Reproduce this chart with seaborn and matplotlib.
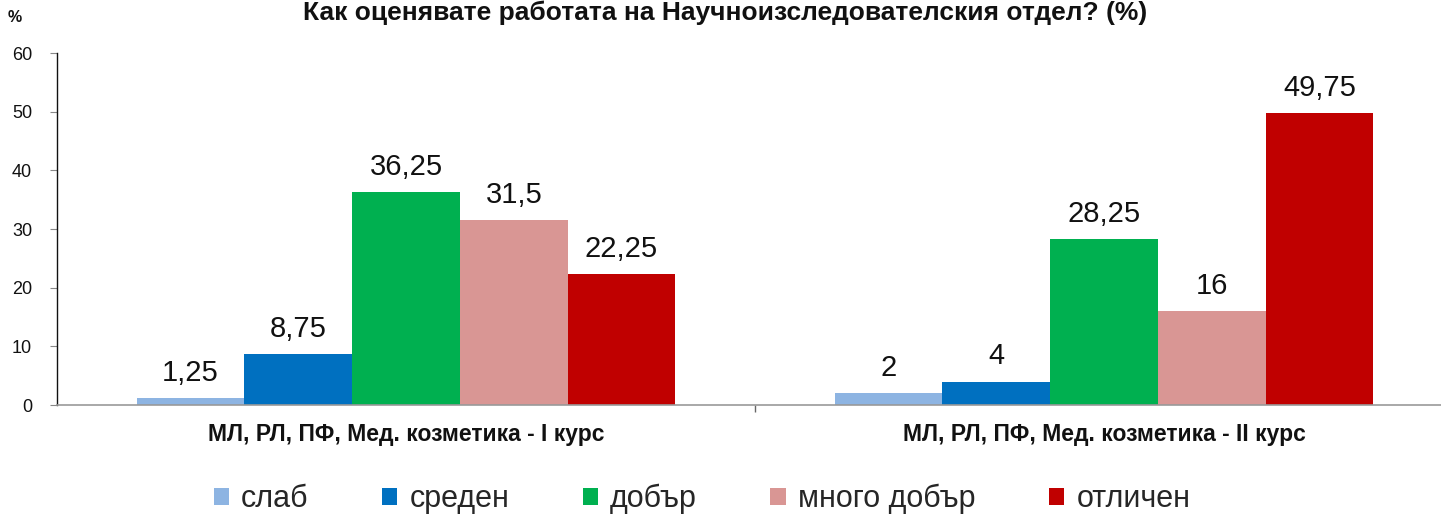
import matplotlib
matplotlib.use("Agg")
import matplotlib.pyplot as plt
import seaborn as sns
import pandas as pd
from matplotlib.patches import Patch

categories = ["МЛ, РЛ, ПФ, Мед. козметика - I курс", "МЛ, РЛ, ПФ, Мед. козметика - II курс"]
series = ["слаб", "среден", "добър", "много добър", "отличен"]
values = {
    "слаб": [1.25, 2],
    "среден": [8.75, 4],
    "добър": [36.25, 28.25],
    "много добър": [31.5, 16],
    "отличен": [22.25, 49.75],
}
colors = ["#8DB4E2", "#0070C0", "#00B050", "#D99694", "#C00000"]
yticks = [0, 10, 20, 30, 40, 50, 60]
title = "Как оценявате работата на Научноизследователския отдел? (%)"

rows = []
for s in series:
    for c, v in zip(categories, values[s]):
        rows.append({"cat": c, "series": s, "val": v})
df = pd.DataFrame(rows)

sns.set_theme(style="white")
plt.rcParams["font.family"] = ["Liberation Sans", "DejaVu Sans"]

W, H = 1441, 514
fig = plt.figure(figsize=(W / 100, H / 100), dpi=100)
ax = fig.add_axes([57 / W, 1 - 405 / H, 1396 / W, 352 / H])

sns.barplot(data=df, x="cat", y="val", hue="series", hue_order=series,
            order=categories, palette=colors, width=0.772, gap=0,
            saturation=1, ax=ax, legend=False, errorbar=None, edgecolor="none")

for cont in ax.containers:
    labels = [("%g" % b.get_height()).replace(".", ",") for b in cont]
    ax.bar_label(cont, labels=labels, padding=8, fontsize=21, color="#111111")

ax.set_xlim(-0.5, 1.5)
ax.set_ylim(0, 60)
ax.set_yticks(yticks)
ax.tick_params(axis="y", direction="out", length=5, width=0.8, color="#888888",
               labelsize=13, pad=13, left=True, labelcolor="#111111")
ax.set_xticks([0, 1])
ax.set_xticklabels(categories, fontsize=16.5, fontweight="bold", color="#111111")
ax.tick_params(axis="x", length=0, pad=13)
ax.set_xticks([0.5], minor=True)
ax.tick_params(axis="x", which="minor", direction="out", length=5, width=1.0, color="#666666", bottom=True)
ax.set_xlabel("")
ax.set_ylabel("")
for s in ["top", "right"]:
    ax.spines[s].set_visible(False)
ax.spines["left"].set_color("#111111")
ax.spines["left"].set_linewidth(1.0)
ax.spines["bottom"].set_color("#999999")
ax.spines["bottom"].set_linewidth(1.2)
ax.grid(False)

fig.text(15 / W, 1 - 22 / H, "%", fontsize=11.5, fontweight="bold", ha="center", color="#111111")
fig.text(0.503, 1 - 1 / H, title, fontsize=19, fontweight="bold", ha="center", va="top", color="#111111")

handles = [Patch(facecolor=c, edgecolor="none") for c in colors]
fig.legend(handles, series, loc="center", bbox_to_anchor=(702 / W, 1 - 499 / H), ncol=5,
           frameon=False, fontsize=22, handlelength=0.5, handleheight=0.5,
           columnspacing=2.4, handletextpad=0.4, borderpad=0, borderaxespad=0)

fig.savefig("out.png", dpi=100)
